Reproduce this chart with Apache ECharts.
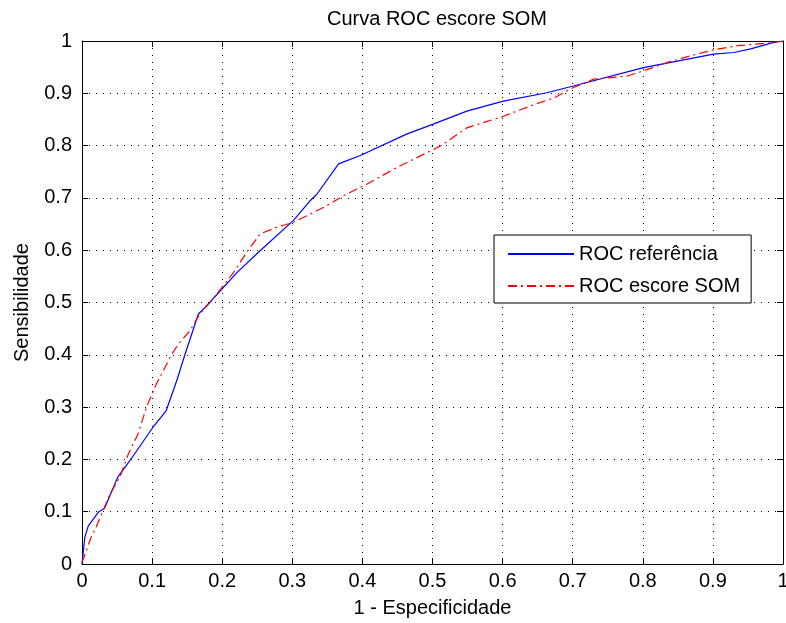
<!DOCTYPE html>
<html><head><meta charset="utf-8">
<script src="https://cdn.jsdelivr.net/npm/echarts@6/dist/echarts.min.js"></script>
<style>html,body{margin:0;padding:0;background:#fff}#c{width:786px;height:623px}</style>
</head><body><div id="c"></div>
<script>
const titleText = 'Curva ROC escore SOM';
const xLabel = '1 - Especificidade';
const yLabel = 'Sensibilidade';
const seriesNames = ['ROC referência', 'ROC escore SOM'];

const refX = [0, 0.004, 0.009, 0.024, 0.032, 0.051, 0.068, 0.101, 0.12, 0.135, 0.147, 0.166, 0.173, 0.197, 0.221, 0.254, 0.301, 0.325, 0.335, 0.366, 0.397, 0.463, 0.501, 0.549, 0.601, 0.663, 0.701, 0.801, 0.901, 0.93, 0.954, 0.983, 1];
const refY = [0, 0.051, 0.073, 0.10, 0.106, 0.166, 0.197, 0.261, 0.293, 0.35, 0.401, 0.478, 0.487, 0.522, 0.557, 0.599, 0.656, 0.694, 0.707, 0.765, 0.781, 0.822, 0.841, 0.866, 0.885, 0.901, 0.914, 0.949, 0.975, 0.978, 0.985, 0.996, 1];

const somX = [0, 0.013, 0.02, 0.04, 0.054, 0.066, 0.08, 0.092, 0.106, 0.128, 0.137, 0.154, 0.168, 0.187, 0.216, 0.235, 0.254, 0.278, 0.301, 0.33, 0.349, 0.373, 0.392, 0.406, 0.449, 0.511, 0.549, 0.601, 0.644, 0.673, 0.701, 0.73, 0.778, 0.801, 0.835, 0.877, 0.901, 0.935, 0.978, 1];
const somY = [0.003, 0.051, 0.07, 0.134, 0.166, 0.21, 0.249, 0.30, 0.344, 0.401, 0.42, 0.446, 0.478, 0.507, 0.557, 0.596, 0.631, 0.644, 0.653, 0.672, 0.685, 0.704, 0.717, 0.726, 0.758, 0.799, 0.834, 0.856, 0.878, 0.891, 0.911, 0.927, 0.933, 0.943, 0.959, 0.975, 0.983, 0.991, 0.996, 1];

const font = 'Liberation Sans, Arial, sans-serif';
const fs = 20;
const chart = echarts.init(document.getElementById('c'));
const zip = (a, b) => a.map((v, i) => [v, b[i]]);
const fmt = v => (v === 0 ? '0' : v === 1 ? '1' : String(Math.round(v * 10) / 10));

const baseAxis = {
  type: 'value', min: 0, max: 1, interval: 0.1,
  axisLine: { show: true, onZero: false, lineStyle: { color: '#000', width: 1 } },
  axisTick: { show: true, inside: true, length: 6, lineStyle: { color: '#000' } }
};

chart.setOption({
  animation: false,
  backgroundColor: '#fff',
  title: { text: titleText, left: 432, top: 4, textAlign: 'center',
    textStyle: { fontFamily: font, fontSize: fs, fontWeight: 'normal', color: '#000' } },
  grid: { left: 82, top: 41, right: 3, bottom: 59, show: false, outerBoundsMode: 'none', containLabel: false },
  legend: {
    orient: 'vertical', left: 494, top: 235,
    backgroundColor: '#fff', borderColor: '#000', borderWidth: 1, borderRadius: 0,
    padding: [9, 11, 7, 13], itemGap: 12, itemWidth: 66, itemHeight: 14,
    itemStyle: { opacity: 0 },
    textStyle: { fontFamily: font, fontSize: fs, color: '#000', width: 169 },
    data: seriesNames
  },
  xAxis: [
    Object.assign({}, baseAxis, {
      position: 'bottom',
      name: xLabel, nameLocation: 'middle', nameGap: 34,
      nameTextStyle: { fontFamily: font, fontSize: fs, color: '#000' },
      axisLabel: { fontFamily: font, fontSize: fs, color: '#000', margin: 7, formatter: fmt },
      splitLine: { show: true, lineStyle: { color: '#000', type: [1, 6], width: 1 } }
    }),
    Object.assign({}, baseAxis, { position: 'top', axisLabel: { show: false }, splitLine: { show: false } })
  ],
  yAxis: [
    Object.assign({}, baseAxis, {
      position: 'left',
      name: yLabel, nameLocation: 'middle', nameGap: 50,
      nameTextStyle: { fontFamily: font, fontSize: fs, color: '#000' },
      axisLabel: { fontFamily: font, fontSize: fs, color: '#000', margin: 10, formatter: fmt },
      splitLine: { show: true, lineStyle: { color: '#000', type: [1, 6], width: 1 } }
    }),
    Object.assign({}, baseAxis, { position: 'right', axisLabel: { show: false }, splitLine: { show: false } })
  ],
  series: [
    { name: seriesNames[0], type: 'line', xAxisIndex: 0, yAxisIndex: 0, data: zip(refX, refY),
      showSymbol: false, symbol: 'none', lineStyle: { color: '#0000ff', width: 1.2 }, itemStyle: { color: '#0000ff' } },
    { name: seriesNames[1], type: 'line', xAxisIndex: 0, yAxisIndex: 0, data: zip(somX, somY),
      showSymbol: false, symbol: 'none', lineStyle: { color: '#ff0000', width: 1.2, type: [9, 4, 2, 4] }, itemStyle: { color: '#ff0000' } }
  ]
});
</script></body></html>
